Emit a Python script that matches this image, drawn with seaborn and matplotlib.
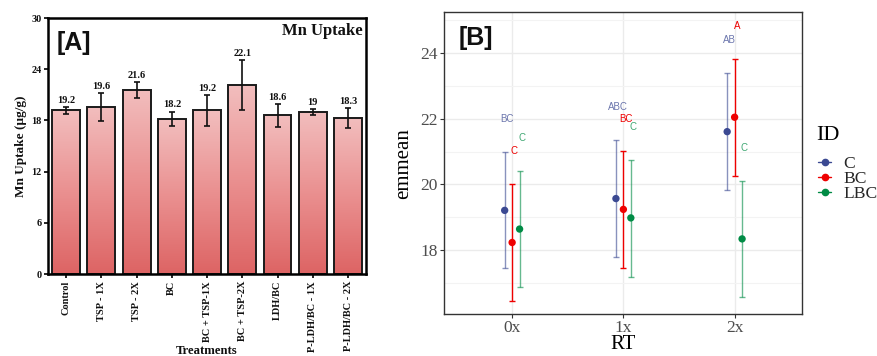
import numpy as np
import pandas as pd
import matplotlib
matplotlib.use("Agg")
import matplotlib.pyplot as plt
import seaborn as sns
from matplotlib.colors import LinearSegmentedColormap
from matplotlib.lines import Line2D
from matplotlib.ticker import MultipleLocator

# ---- panel A data ----
treatments = ["Control", "TSP - 1X", "TSP - 2X", "BC", "BC + TSP-1X",
              "BC + TSP-2X", "LDH/BC", "P-LDH/BC - 1X", "P-LDH/BC - 2X"]
mn_uptake = [19.2, 19.6, 21.6, 18.2, 19.2, 22.1, 18.6, 19.0, 18.3]
mn_err = [0.39, 1.62, 0.92, 0.84, 1.81, 2.93, 1.33, 0.35, 1.19]
value_labels = ["19.2", "19.6", "21.6", "18.2", "19.2", "22.1", "18.6", "19", "18.3"]

# ---- panel B data ----
rt_levels = ["0x", "1x", "2x"]
id_levels = ["C", "BC", "LBC"]
emmean_c = [19.21, 19.57, 21.61]
emmean_bc = [18.23, 19.24, 22.05]
emmean_lbc = [18.64, 18.98, 18.34]
lower_c = [17.44, 17.79, 19.84]
lower_bc = [16.44, 17.45, 20.27]
lower_lbc = [16.86, 17.19, 16.56]
upper_c = [21.00, 21.36, 23.40]
upper_bc = [20.02, 21.01, 23.83]
upper_lbc = [20.42, 20.76, 20.12]
letters_c = ["BC", "ABC", "AB"]
letters_bc = ["C", "BC", "A"]
letters_lbc = ["C", "C", "C"]

id_colors = {"C": "#3B4992", "BC": "#EE0000", "LBC": "#008B45"}
bar_alpha = {"C": 0.6, "BC": 1.0, "LBC": 0.6}

sns.set_theme(style="white")
serif = "Liberation Serif"
sans = "Liberation Sans"

fig = plt.figure(figsize=(8.78, 3.56), dpi=100)

# ================= panel A =================
axA = fig.add_axes([0.0552, 0.2303, 0.3613, 0.719])
dfA = pd.DataFrame({"Treatment": treatments, "Mn": mn_uptake})
sns.barplot(data=dfA, x="Treatment", y="Mn", color="#E88080", width=0.79,
            edgecolor="#1a1a1a", linewidth=1.4, errorbar=None, ax=axA)

grad = np.linspace(0, 1, 256).reshape(-1, 1)
cmap = LinearSegmentedColormap.from_list("pinkred", ["#DD6464", "#EA9090", "#F2BEBE"])
for p in axA.patches:
    x0, y0 = p.get_x(), p.get_y()
    w, h = p.get_width(), p.get_height()
    im = axA.imshow(grad, cmap=cmap, origin="lower", aspect="auto",
                    extent=[x0, x0 + w, y0, y0 + h], zorder=p.get_zorder() - 0.1)
    im.set_clip_path(p)
    p.set_facecolor("none")

axA.errorbar(range(len(treatments)), mn_uptake, yerr=mn_err, fmt="none",
             ecolor="#111111", elinewidth=1.2, capsize=2.2, capthick=1.2, zorder=5)
for i, (v, e, lab) in enumerate(zip(mn_uptake, mn_err, value_labels)):
    axA.text(i, v + e + 0.25, lab, ha="center", va="bottom", fontsize=7.5,
             fontweight="bold", family=serif, color="#111111")

axA.set_xlim(-0.5, len(treatments) - 0.5)
axA.set_ylim(0, 30)
axA.set_yticks([0, 6, 12, 18, 24, 30])
for s in axA.spines.values():
    s.set_color("black")
    s.set_linewidth(1.8)
axA.tick_params(axis="both", direction="out", length=3, width=1.2, color="black",
                left=True, bottom=True, pad=2)
axA.set_xticks(range(len(treatments)))
axA.set_xticklabels(treatments, rotation=90, fontsize=7.5, fontweight="bold",
                    family=serif, color="#111111")
for t in axA.get_yticklabels():
    t.set_fontsize(7.4)
    t.set_fontweight("bold")
    t.set_family(serif)
    t.set_color("#111111")
axA.set_ylabel("Mn Uptake (µg/g)", fontsize=9.5, fontweight="bold", family=serif,
               color="#111111", labelpad=3)
axA.set_xlabel("Treatments", fontsize=9.2, fontweight="bold", family=serif,
               color="#111111")
axA.xaxis.set_label_coords(0.5, -0.278)
axA.text(0.99, 0.949, "Mn Uptake", transform=axA.transAxes, ha="right", va="center",
         fontsize=12, fontweight="bold", family=serif, color="#111111")
axA.text(0.025, 0.902, "[A]", transform=axA.transAxes, ha="left", va="center",
         fontsize=18, fontweight="bold", family=sans, color="#111111")

# ================= panel B =================
axB = fig.add_axes([0.506, 0.118, 0.408, 0.8475])
rows = []
groups = {
    "C": (emmean_c, lower_c, upper_c, letters_c),
    "BC": (emmean_bc, lower_bc, upper_bc, letters_bc),
    "LBC": (emmean_lbc, lower_lbc, upper_lbc, letters_lbc),
}
dodge = {"C": -0.067, "BC": 0.0, "LBC": 0.067}
for gid, (em, lo, up, let) in groups.items():
    for j, rt in enumerate(rt_levels):
        rows.append({"RT": rt, "ID": gid, "x": j + dodge[gid], "emmean": em[j],
                     "lower": lo[j], "upper": up[j], "letter": let[j]})
dfB = pd.DataFrame(rows)

axB.set_facecolor("white")
axB.set_axisbelow(True)
axB.yaxis.set_minor_locator(MultipleLocator(1))
axB.yaxis.set_major_locator(MultipleLocator(2))
axB.grid(which="major", color="#EBEBEB", linewidth=1.0)
axB.grid(which="minor", axis="y", color="#F3F3F3", linewidth=0.8)

for gid in id_levels:
    sub = dfB[dfB["ID"] == gid]
    axB.errorbar(sub["x"], sub["emmean"],
                 yerr=[sub["emmean"] - sub["lower"], sub["upper"] - sub["emmean"]],
                 fmt="none", ecolor=id_colors[gid], alpha=bar_alpha[gid],
                 elinewidth=1.0, capsize=2.5, capthick=1.0, zorder=3)
    for _, r in sub.iterrows():
        axB.text(r["x"] + 0.02, r["upper"] + 1.0, r["letter"], ha="center",
                 va="center", fontsize=7, family=sans, color=id_colors[gid],
                 alpha=0.75 if bar_alpha[gid] < 1 else 1.0)

sns.scatterplot(data=dfB, x="x", y="emmean", hue="ID", palette=id_colors,
                hue_order=id_levels, s=28, edgecolor="none", legend=False,
                zorder=4, ax=axB)

axB.set_xlim(-0.61, 2.61)
axB.set_ylim(16.05, 25.25)
axB.set_xticks(range(len(rt_levels)))
axB.set_xticklabels(rt_levels)
axB.set_yticks([18, 20, 22, 24])
for s in axB.spines.values():
    s.set_color("#333333")
    s.set_linewidth(1.0)
axB.tick_params(axis="both", which="major", direction="out", length=3, width=0.8,
                color="#333333", labelsize=12.5, labelcolor="#4D4D4D",
                left=True, bottom=True, pad=1.5)
axB.tick_params(axis="y", which="minor", left=False)
for t in axB.get_xticklabels() + axB.get_yticklabels():
    t.set_family(serif)
axB.set_xlabel("RT", fontsize=15, family=serif, color="black", labelpad=-1)
axB.set_ylabel("emmean", fontsize=15, family=serif, color="black", labelpad=5)
axB.text(0.041, 0.915, "[B]", transform=axB.transAxes, ha="left", va="center",
         fontsize=18, fontweight="bold", family=sans, color="#111111")

# legend: title as separate text, entries packed tightly like ggplot keys
fig.text(816.5 / 878, 1 - 135 / 356, "ID", ha="left", va="center",
         fontsize=16, family=serif, color="black")
handles = [Line2D([0], [0], color=id_colors[g], marker="o", markersize=4.5,
                  linewidth=1.0) for g in id_levels]
axB.legend(handles, id_levels, loc="upper left",
           bbox_to_anchor=(811 / 878, 1 - 149 / 356), bbox_transform=fig.transFigure,
           frameon=False, handlelength=0.75, handletextpad=0.7,
           labelspacing=-0.08, borderaxespad=0,
           prop={"family": serif, "size": 12.6})

fig.savefig("out.png", dpi=100)
